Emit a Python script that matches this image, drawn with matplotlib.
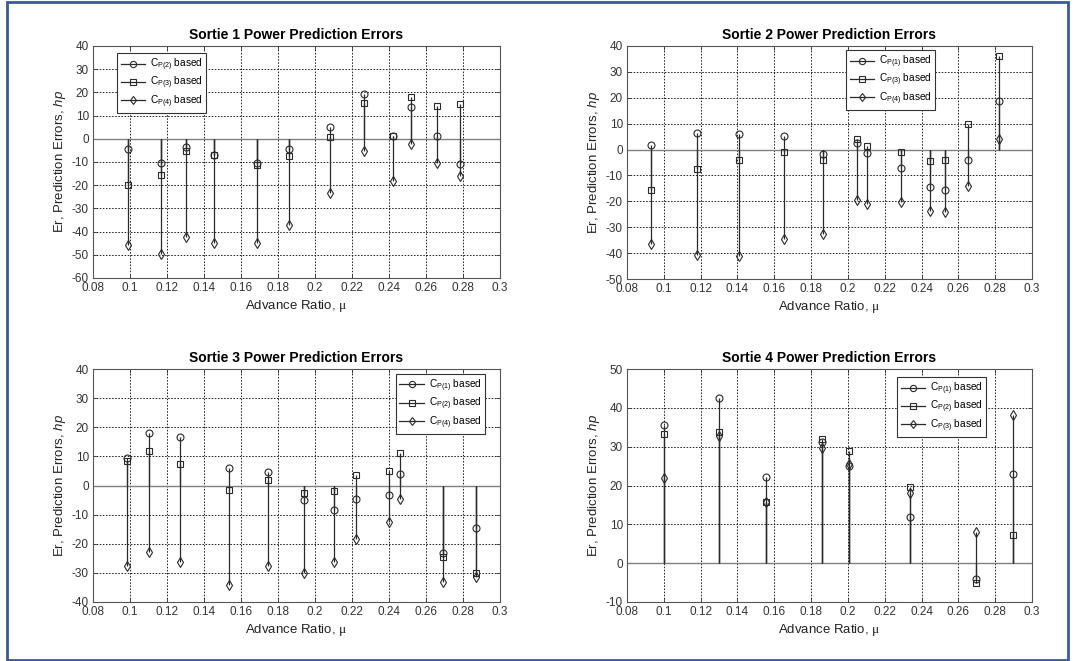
import numpy as np
import matplotlib
matplotlib.use("Agg")
import matplotlib.pyplot as plt
from matplotlib.legend_handler import HandlerLine2D
from matplotlib.lines import Line2D
from matplotlib.patches import Rectangle
from matplotlib.ticker import FormatStrFormatter

plt.rcParams['font.family'] = ['Liberation Sans', 'DejaVu Sans']
plt.rcParams['mathtext.fontset'] = 'custom'
plt.rcParams['mathtext.rm'] = 'Liberation Sans'
plt.rcParams['mathtext.it'] = 'Liberation Sans:italic'
plt.rcParams['mathtext.sf'] = 'Liberation Serif'

# ---- Sortie 1 ----
mu1 = [0.0989, 0.1168, 0.1301, 0.1456, 0.1685, 0.1859, 0.2082, 0.2263,
       0.2419, 0.2519, 0.2661, 0.2784]
s1_cp2 = [-4.6, -10.3, -3.6, -6.9, -10.3, -4.4, 5.3, 19.1, 1.4, 13.8, 1.0, -10.7]
s1_cp3 = [-19.9, -15.8, -5.4, -7.0, -11.3, -7.2, 0.6, 15.3, 1.4, 18.2, 14.3, 14.8]
s1_cp4 = [-45.7, -49.6, -42.4, -45.1, -45.0, -37.2, -23.2, -5.2, -18.1, -2.3, -10.5, -16.2]

# ---- Sortie 2 ----
mu2 = [0.0932, 0.1178, 0.1411, 0.1655, 0.1863, 0.2047, 0.2103, 0.2290,
       0.2445, 0.2530, 0.2653, 0.2823]
s2_cp1 = [1.9, 6.3, 6.0, 5.3, -1.8, 2.7, -1.2, -7.1, -14.4, -15.6, -4.0, 18.9]
s2_cp3 = [-15.6, -7.5, -4.2, -1.0, -4.1, 4.2, 1.5, -0.9, -4.5, -4.2, 10.0, 36.2]
s2_cp4 = [-36.4, -40.6, -41.3, -34.4, -32.8, -19.3, -21.0, -20.1, -23.8, -24.3, -13.9, 4.0]

# ---- Sortie 3 ----
mu3 = [0.0982, 0.1103, 0.1271, 0.1536, 0.1747, 0.1938, 0.2102, 0.2223,
       0.2401, 0.2461, 0.2694, 0.2872]
s3_cp1 = [9.4, 18.0, 16.8, 6.1, 4.6, -4.9, -8.4, -4.7, -3.3, 3.8, -23.3, -14.7]
s3_cp2 = [8.4, 11.8, 7.4, -1.7, 2.0, -2.5, -1.9, 3.6, 5.1, 11.2, -24.7, -30.2]
s3_cp4 = [-27.7, -22.8, -26.3, -34.1, -27.5, -30.0, -26.3, -18.3, -12.5, -4.5, -33.0, -31.4]

# ---- Sortie 4 ----
mu4 = [0.1001, 0.1302, 0.1553, 0.1861, 0.2006, 0.2337, 0.2694, 0.2897]
s4_cp1 = [35.6, 42.5, 22.2, 31.2, 25.0, 11.9, -4.0, 23.0]
s4_cp2 = [33.2, 33.9, 15.8, 31.9, 29.0, 19.7, -5.1, 7.2]
s4_cp3 = [21.9, 32.7, 15.8, 29.7, 25.6, 18.0, 8.0, 38.2]

x_ticks = [0.08, 0.10, 0.12, 0.14, 0.16, 0.18, 0.20, 0.22, 0.24, 0.26, 0.28, 0.30]

panels = [
    dict(title='Sortie 1 Power Prediction Errors', mu=mu1,
         series=[(s1_cp2, 'o', '2'), (s1_cp3, 's', '3'), (s1_cp4, 'd', '4')],
         ylim=(-60, 40), ystep=10, rect=(93, 46, 500, 278), leg=(0.059, 0.970)),
    dict(title='Sortie 2 Power Prediction Errors', mu=mu2,
         series=[(s2_cp1, 'o', '1'), (s2_cp3, 's', '3'), (s2_cp4, 'd', '4')],
         ylim=(-50, 40), ystep=10, rect=(627, 46, 1032, 279), leg=(0.541, 0.983)),
    dict(title='Sortie 3 Power Prediction Errors', mu=mu3,
         series=[(s3_cp1, 'o', '1'), (s3_cp2, 's', '2'), (s3_cp4, 'd', '4')],
         ylim=(-40, 40), ystep=10, rect=(93, 369, 500, 602), leg=(0.744, 0.979)),
    dict(title='Sortie 4 Power Prediction Errors', mu=mu4,
         series=[(s4_cp1, 'o', '1'), (s4_cp2, 's', '2'), (s4_cp3, 'd', '3')],
         ylim=(-10, 50), ystep=10, rect=(627, 369, 1032, 602), leg=(0.667, 0.966)),
]

W, H = 1075, 661
fig = plt.figure(figsize=(W / 100, H / 100), dpi=100)
fig.patch.set_facecolor('white')

STEM = '#2a2a2a'
MSIZE = {'o': 5.0, 's': 5.0, 'd': 5.0}


class StemLegendHandler(HandlerLine2D):
    """Legend entry drawn like a stem: line with the marker at its right end."""
    def get_xdata(self, legend, xdescent, ydescent, width, height, fontsize):
        xdata = np.array([-xdescent, width])
        return xdata, np.array([width - 0.1 * fontsize])


for p in panels:
    l, t, r, b = p['rect']
    ax = fig.add_axes([l / W, 1 - b / H, (r - l) / W, (b - t) / H])
    ax.set_xlim(0.08, 0.30)
    ax.set_ylim(*p['ylim'])
    ax.set_xticks(x_ticks)
    ax.set_yticks(np.arange(p['ylim'][0], p['ylim'][1] + 1, p['ystep']))
    ax.xaxis.set_major_formatter(FormatStrFormatter('%g'))
    ax.yaxis.set_major_formatter(FormatStrFormatter('%g'))
    ax.grid(True, linestyle=(0, (1.6, 1.6)), color='#222222', linewidth=0.7)
    ax.set_axisbelow(True)
    ax.axhline(0, color='#808080', linewidth=1.0, zorder=2)

    handles, labels = [], []
    for vals, mk, idx in p['series']:
        ax.vlines(p['mu'], 0, vals, color=STEM, linewidth=0.9, zorder=3)
        ax.plot(p['mu'], vals, linestyle='none', marker=mk, markersize=MSIZE[mk],
                markerfacecolor='none', markeredgecolor=STEM, markeredgewidth=0.8, zorder=4)
        handles.append(Line2D([], [], color=STEM, linewidth=0.9, marker=mk,
                              markersize=MSIZE[mk] * 0.9, markerfacecolor='none',
                              markeredgecolor=STEM, markeredgewidth=0.8))
        labels.append(r'C$_{\mathrm{P(' + idx + r')}}$ based')

    leg = ax.legend(handles, labels, loc='upper left', bbox_to_anchor=p['leg'],
                    borderaxespad=0, fontsize=7.3, frameon=True, fancybox=False,
                    framealpha=1, edgecolor='#333333', handlelength=2.4,
                    labelspacing=0.2, borderpad=0.35, handletextpad=0.5, numpoints=1,
                    handler_map={Line2D: StemLegendHandler(numpoints=1)})
    leg.get_frame().set_linewidth(0.8)

    ax.set_title(p['title'], fontsize=10, fontweight='bold', pad=5)
    ax.set_xlabel(r'Advance Ratio, $\mathsf{\mu}$', fontsize=9.5, labelpad=3, color='#222222')
    ax.set_ylabel(r'Er, Prediction Errors, $\mathit{hp}$', fontsize=9.5, labelpad=3, color='#222222')
    ax.tick_params(direction='in', length=3, width=0.6, labelsize=8.5, pad=3,
                   top=True, right=True, colors='#333333', labelcolor='#333333')
    for s in ax.spines.values():
        s.set_color('#555555')
        s.set_linewidth(0.8)

fig.add_artist(Rectangle((7 / W, 1.5 / H), (1068 - 7) / W, (659 - 1.5) / H,
                         transform=fig.transFigure, fill=False,
                         edgecolor='#3a5a98', linewidth=2.0))

fig.savefig('out.png', dpi=100)
